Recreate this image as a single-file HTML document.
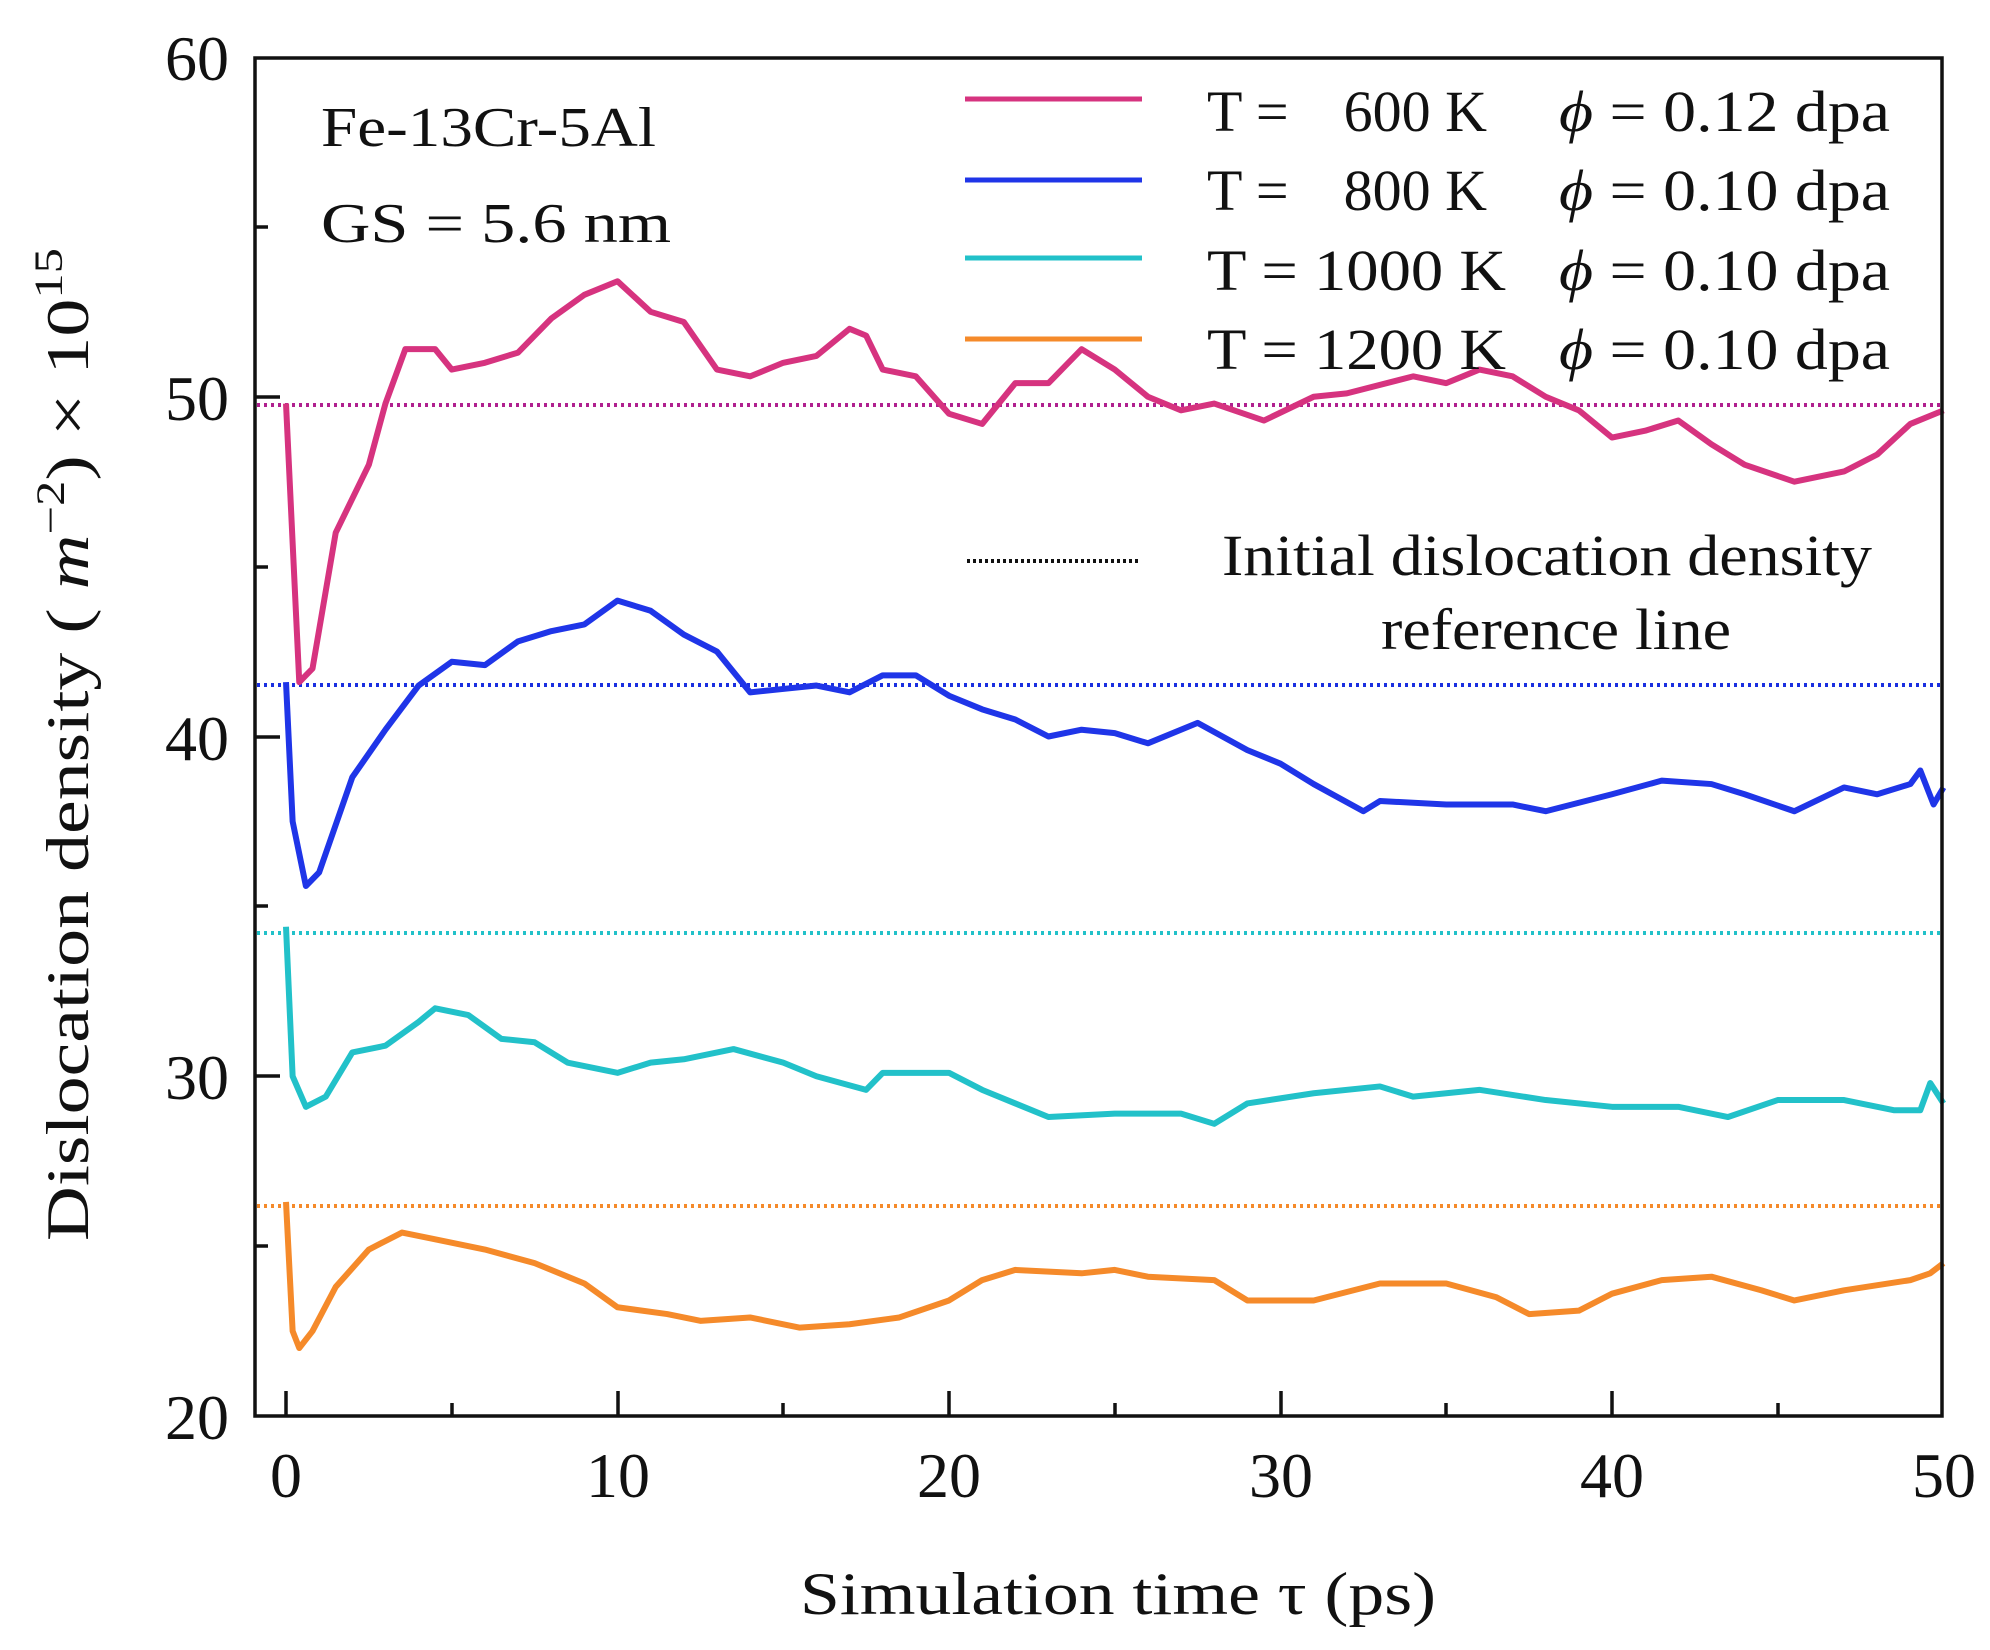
<!DOCTYPE html>
<html><head><meta charset="utf-8"><style>
html,body{margin:0;padding:0;background:#fff;}
svg{display:block;}
text{font-family:"Liberation Serif","Times New Roman",serif;fill:#111;}
</style></head><body>
<svg width="1990" height="1650" viewBox="0 0 1990 1650" xmlns="http://www.w3.org/2000/svg">
<rect width="1990" height="1650" fill="#fff"/>
<g stroke-width="4" stroke-dasharray="3 4">
<line x1="257" x2="1942" y1="405" y2="405" stroke="#b0208f"/>
<line x1="257" x2="1942" y1="685" y2="685" stroke="#1a2fe0"/>
<line x1="257" x2="1942" y1="933" y2="933" stroke="#22c1c9"/>
<line x1="257" x2="1942" y1="1206" y2="1206" stroke="#f58a2a"/>
</g>
<g transform="matrix(33.15 0 0 -33.975 286 2095.5)" fill="none" stroke-linejoin="round">
<polyline vector-effect="non-scaling-stroke" stroke-width="6" stroke="#d6337f" points="0,49.8 0.4,41.6 0.8,42 1.5,46 2.5,48 3,49.8 3.6,51.4 4.5,51.4 5,50.8 6,51 7,51.3 8,52.3 9,53 10,53.4 11,52.5 12,52.2 13,50.8 14,50.6 15,51 16,51.2 17,52 17.5,51.8 18,50.8 19,50.6 20,49.5 21,49.2 22,50.4 23,50.4 24,51.4 25,50.8 26,50 27,49.6 28,49.8 29.5,49.3 31,50 32,50.1 34,50.6 35,50.4 36,50.8 37,50.6 38,50 39,49.6 40,48.8 41,49 42,49.3 43,48.6 44,48 45.5,47.5 47,47.8 48,48.3 49,49.2 50,49.6"/>
<polyline vector-effect="non-scaling-stroke" stroke-width="6" stroke="#1f35e8" points="0,41.6 0.2,37.5 0.6,35.6 1,36 2,38.8 3,40.2 4,41.5 5,42.2 6,42.1 7,42.8 8,43.1 9,43.3 10,44 11,43.7 12,43 13,42.5 14,41.3 15,41.4 16,41.5 17,41.3 18,41.8 19,41.8 20,41.2 21,40.8 22,40.5 23,40 24,40.2 25,40.1 26,39.8 27.5,40.4 29,39.6 30,39.2 31,38.6 32.5,37.8 33,38.1 35,38 37,38 38,37.8 40,38.3 41.5,38.7 43,38.6 44,38.3 45.5,37.8 47,38.5 48,38.3 49,38.6 49.3,39 49.7,38 50,38.5"/>
<polyline vector-effect="non-scaling-stroke" stroke-width="6" stroke="#22c1c9" points="0,34.4 0.2,30 0.6,29.1 1.2,29.4 2,30.7 3,30.9 4,31.6 4.5,32 5.5,31.8 6.5,31.1 7.5,31 8.5,30.4 10,30.1 11,30.4 12,30.5 13.5,30.8 15,30.4 16,30 17.5,29.6 18,30.1 20,30.1 21,29.6 22,29.2 23,28.8 25,28.9 27,28.9 28,28.6 29,29.2 31,29.5 33,29.7 34,29.4 36,29.6 38,29.3 40,29.1 42,29.1 43.5,28.8 45,29.3 47,29.3 48.5,29 49.3,29 49.6,29.8 50,29.2"/>
<polyline vector-effect="non-scaling-stroke" stroke-width="6" stroke="#f58a2a" points="0,26.3 0.2,22.5 0.4,22 0.8,22.5 1.5,23.8 2.5,24.9 3.5,25.4 4.5,25.2 6,24.9 7.5,24.5 9,23.9 10,23.2 11.5,23 12.5,22.8 14,22.9 15.5,22.6 17,22.7 18.5,22.9 20,23.4 21,24 22,24.3 24,24.2 25,24.3 26,24.1 28,24 29,23.4 31,23.4 33,23.9 35,23.9 36.5,23.5 37.5,23 39,23.1 40,23.6 41.5,24 43,24.1 44.5,23.7 45.5,23.4 47,23.7 49,24 49.6,24.2 50,24.5"/>
</g>
<rect x="255" y="58" width="1687" height="1358" fill="none" stroke="#111" stroke-width="3.5"/>
<g stroke="#111" stroke-width="3.5">
<line x1="286" x2="286" y1="1416" y2="1391"/><line x1="618" x2="618" y1="1416" y2="1391"/><line x1="949" x2="949" y1="1416" y2="1391"/><line x1="1281" x2="1281" y1="1416" y2="1391"/><line x1="1612" x2="1612" y1="1416" y2="1391"/>
<line x1="452" x2="452" y1="1416" y2="1403"/><line x1="783" x2="783" y1="1416" y2="1403"/><line x1="1115" x2="1115" y1="1416" y2="1403"/><line x1="1446" x2="1446" y1="1416" y2="1403"/><line x1="1778" x2="1778" y1="1416" y2="1403"/>
<line x1="255" x2="280" y1="397" y2="397"/><line x1="255" x2="280" y1="737" y2="737"/><line x1="255" x2="280" y1="1076" y2="1076"/>
<line x1="255" x2="268" y1="227" y2="227"/><line x1="255" x2="268" y1="567" y2="567"/><line x1="255" x2="268" y1="906" y2="906"/><line x1="255" x2="268" y1="1246" y2="1246"/>
</g>
<g font-size="64" text-anchor="end">
<text x="229" y="80">60</text><text x="229" y="420">50</text><text x="229" y="760">40</text><text x="229" y="1099">30</text><text x="229" y="1439">20</text>
</g>
<g font-size="64" text-anchor="middle">
<text x="286" y="1497">0</text><text x="618" y="1497">10</text><text x="949" y="1497">20</text><text x="1281" y="1497">30</text><text x="1612" y="1497">40</text><text x="1944" y="1497">50</text>
</g>
<text x="800" y="1614" font-size="60" textLength="636" lengthAdjust="spacingAndGlyphs">Simulation time τ (ps)</text>
<text transform="translate(88,1241) rotate(-90)" font-size="60" textLength="993" lengthAdjust="spacingAndGlyphs">Dislocation density ( <tspan font-style="italic">m</tspan><tspan font-size="40" dy="-24">−2</tspan><tspan dy="24">) × 10</tspan><tspan font-size="40" dy="-26">15</tspan></text>
<text x="321" y="146" font-size="56" textLength="335" lengthAdjust="spacingAndGlyphs">Fe-13Cr-5Al</text>
<text x="321" y="242" font-size="56" textLength="350" lengthAdjust="spacingAndGlyphs">GS  = 5.6 nm</text>
<g stroke-width="5">
<line x1="965" x2="1142" y1="99" y2="99" stroke="#d6337f"/>
<line x1="965" x2="1142" y1="180" y2="180" stroke="#1f35e8"/>
<line x1="965" x2="1142" y1="258" y2="258" stroke="#22c1c9"/>
<line x1="965" x2="1142" y1="339" y2="339" stroke="#f58a2a"/>
</g>
<line x1="967" x2="1140" y1="561" y2="561" stroke="#111" stroke-width="4" stroke-dasharray="3 3"/>
<g font-size="58">
<text x="1207" y="131">T =</text><text x="1487" y="131" text-anchor="end">600 K</text>
<text x="1207" y="210">T =</text><text x="1487" y="210" text-anchor="end">800 K</text>
<text x="1207" y="290" textLength="299" lengthAdjust="spacingAndGlyphs">T = 1000 K</text>
<text x="1207" y="369" textLength="299" lengthAdjust="spacingAndGlyphs">T = 1200 K</text>
<text x="1559" y="131" textLength="331" lengthAdjust="spacingAndGlyphs"><tspan font-style="italic">ϕ</tspan> = 0.12 dpa</text>
<text x="1559" y="210" textLength="331" lengthAdjust="spacingAndGlyphs"><tspan font-style="italic">ϕ</tspan> = 0.10 dpa</text>
<text x="1559" y="290" textLength="331" lengthAdjust="spacingAndGlyphs"><tspan font-style="italic">ϕ</tspan> = 0.10 dpa</text>
<text x="1559" y="369" textLength="331" lengthAdjust="spacingAndGlyphs"><tspan font-style="italic">ϕ</tspan> = 0.10 dpa</text>
<text x="1222" y="575" textLength="650" lengthAdjust="spacingAndGlyphs">Initial dislocation density</text>
<text x="1381" y="649" textLength="350" lengthAdjust="spacingAndGlyphs">reference line</text>
</g>
</svg>
</body></html>
